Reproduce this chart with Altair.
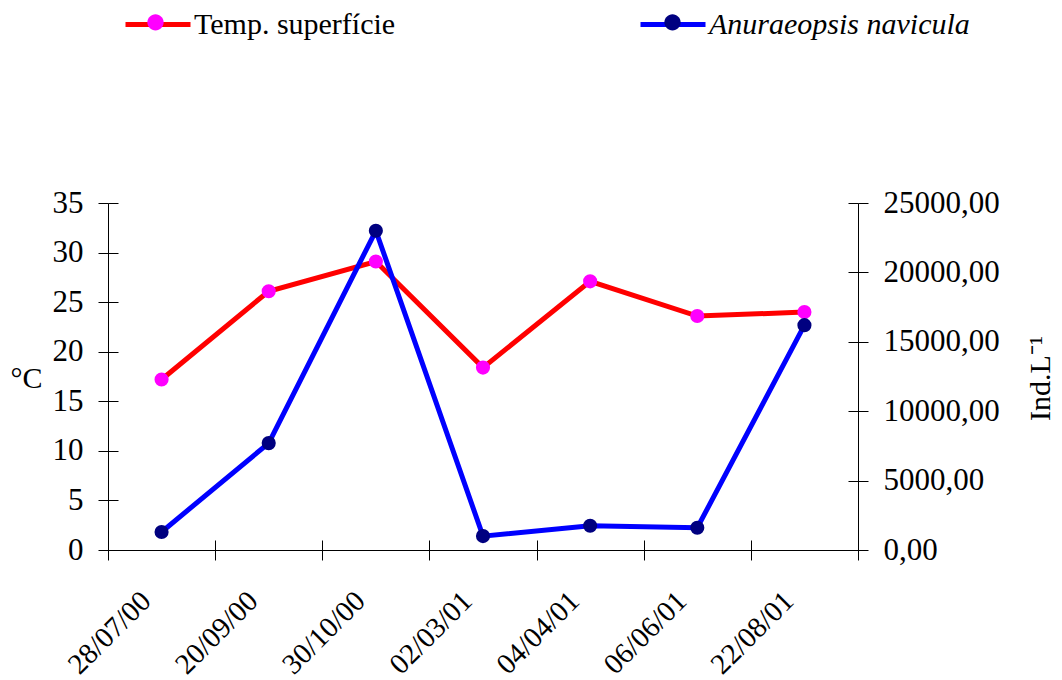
import altair as alt
import pandas as pd

dates = ["28/07/00", "20/09/00", "30/10/00", "02/03/01", "04/04/01", "06/06/01", "22/08/01"]
temp = [17.2, 26.1, 29.1, 18.4, 27.1, 23.6, 24.0]
anur = [1300, 7700, 23000, 1000, 1750, 1600, 16200]
series = ["Temp. superfície", "Anuraeopsis navicula"]
line_colors = ["#FF0000", "#0000FF"]
dot_colors = ["#FF00FF", "#000080"]
left_ticks = [0, 5, 10, 15, 20, 25, 30, 35]
right_ticks = [0, 5000, 10000, 15000, 20000, 25000]

FONT = "Liberation Serif"
W, H = 750, 347

df_t = pd.DataFrame({"date": dates, "value": temp, "serie": series[0], "serie_dot": series[0] + "#"})
df_a = pd.DataFrame({"date": dates, "value": anur, "serie": series[1], "serie_dot": series[1] + "#"})

xscale = alt.Scale(type="band", paddingInner=0, paddingOuter=0)
# bottom x axis: outward half of the crossing ticks + labels
x_main = alt.X(
    "date:N", sort=dates, scale=xscale,
    axis=alt.Axis(title=None, orient="bottom", labelAngle=315, labelAlign="right", labelBaseline="middle",
                  tickBand="extent", tickSize=10, labelPadding=36, labelOffset=-16, labelFontSize=29,
                  grid=False),
)
# inner half of the crossing ticks
x_inner = alt.X(
    "date:N", sort=dates, scale=xscale,
    axis=alt.Axis(title=None, orient="top", offset=-H, labels=False, domain=False,
                  tickBand="extent", tickSize=10, grid=False),
)
x_none = alt.X("date:N", sort=dates, scale=xscale, axis=None)

italic_expr = {"expr": "indexof(datum.value, 'Anuraeopsis') >= 0 ? 'italic' : 'normal'"}
common_leg = dict(title=None, orient="none", legendX=15, legendY=-213.5, direction="horizontal",
                  labelFontSize=30, labelFont=FONT, symbolSize=4225, padding=0,
                  labelColor="black", labelLimit=600)

stroke = alt.Stroke("serie:N", scale=alt.Scale(domain=series, range=line_colors),
                    legend=alt.Legend(symbolType="stroke", symbolStrokeWidth=5, columnPadding=234,
                                      labelOffset=1, labelFontStyle=italic_expr, **common_leg))
fill = alt.Fill("serie_dot:N", scale=alt.Scale(domain=[s + "#" for s in series], range=dot_colors),
                legend=alt.Legend(symbolType="M-0.25,0A0.25,0.25,0,1,0,0.25,0A0.25,0.25,0,1,0,-0.25,0Z",
                                  symbolStrokeWidth=0, zindex=1, labelExpr="''", labelOffset=0,
                                  columnPadding=452, **common_leg))

t_scale = alt.Scale(domain=[0, 35], nice=False)
a_scale = alt.Scale(domain=[0, 25000], nice=False)

y_t = alt.Y("value:Q", scale=t_scale,
            axis=alt.Axis(values=left_ticks, orient="left", title="°C", titleAngle=0, titleAlign="right",
                          titleBaseline="middle", titleX=-66, titleY=175, tickSize=10, labelPadding=15, grid=False))
y_t_inner = alt.Y("value:Q", scale=t_scale,
                  axis=alt.Axis(values=left_ticks, orient="right", offset=-W, labels=False, domain=False,
                                title=None, tickSize=10, grid=False))
y_a = alt.Y("value:Q", scale=a_scale,
            axis=alt.Axis(values=right_ticks, orient="right", title="Ind.L⁻¹", titleAngle=270,
                          titleAlign="center", titleBaseline="middle", titleX=182, titleY=175,
                          tickSize=10, labelPadding=15, grid=False,
                          labelExpr="replace(format(datum.value, '.2f'), '.', ',')"))
y_a_inner = alt.Y("value:Q", scale=a_scale,
                  axis=alt.Axis(values=right_ticks, orient="left", offset=-W, labels=False, domain=False,
                                title=None, tickSize=10, grid=False))

lt = alt.Chart(df_t).mark_line(strokeWidth=5).encode(x=x_main, y=y_t, stroke=stroke)
la = alt.Chart(df_a).mark_line(strokeWidth=5).encode(x=x_none, y=y_a, stroke=stroke)
pt = alt.Chart(df_t).mark_circle(size=200, opacity=1).encode(x=x_inner, y=y_t_inner, fill=fill)
pa = alt.Chart(df_a).mark_circle(size=200, opacity=1).encode(x=x_none, y=y_a_inner, fill=fill)

chart = alt.layer(lt, la, pt, pa).resolve_scale(y="independent").properties(
    width=W, height=H,
    autosize=alt.AutoSizeParams(type="none"),
    padding={"left": 100, "top": 195, "right": 196, "bottom": 130},
).configure(font=FONT).configure_view(strokeOpacity=0).configure_axis(
    domainColor="black", tickColor="black", labelColor="black", titleColor="black",
    labelFont=FONT, titleFont=FONT, labelFontSize=31, titleFontSize=30, titleFontWeight="normal",
    domainWidth=1, tickWidth=1,
)

chart.save("out.html", embed_options={"renderer": "svg", "actions": False})
